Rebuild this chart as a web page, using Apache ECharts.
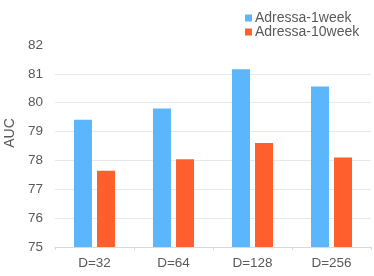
<!DOCTYPE html>
<html><head><meta charset="utf-8">
<script src="https://cdn.jsdelivr.net/npm/echarts@6/dist/echarts.min.js"></script>
<style>html,body{margin:0;padding:0;background:#fff}#c{width:374px;height:276px}</style>
</head><body><div id="c"></div>
<script>
const categories = ['D=32', 'D=64', 'D=128', 'D=256'];
const week1 = [79.41, 79.80, 81.16, 80.56];
const week10 = [77.64, 78.04, 78.60, 78.10];
const seriesNames = ['Adressa-1week', 'Adressa-10week'];
const chart = echarts.init(document.getElementById('c'), null, {renderer: 'canvas'});
const txt = '#595959';
chart.setOption({
  animation: false,
  grid: {left: 55, right: 3, top: 45, bottom: 29, outerBoundsMode: 'none', containLabel: false},
  legend: {
    orient: 'vertical', left: 240, top: 6, itemWidth: 7, itemHeight: 7, itemGap: 0,
    icon: 'rect',
    textStyle: {fontFamily: 'Liberation Sans', fontSize: 14, lineHeight: 13, color: txt, padding: [0,0,0,-2]},
    data: seriesNames
  },
  xAxis: {
    type: 'category', data: categories,
    axisLine: {lineStyle: {color: '#d9d9d9'}},
    axisTick: {show: true, length: 3, lineStyle: {color: '#d9d9d9'}},
    axisLabel: {fontFamily: 'Liberation Sans', fontSize: 13.5, color: txt, margin: 9}
  },
  yAxis: {
    type: 'value', min: 75, max: 82, interval: 1,
    name: 'AUC', nameLocation: 'middle', nameGap: 38,
    nameTextStyle: {fontFamily: 'Liberation Sans', fontSize: 14, color: txt, padding: [0, 0, 0, 26]},
    axisLine: {show: false}, axisTick: {show: false},
    axisLabel: {fontFamily: 'Liberation Sans', fontSize: 13.5, color: txt, margin: 12},
    splitLine: {showMaxLine: false, lineStyle: {color: '#e8e8e8'}}
  },
  series: [
    {name: seriesNames[0], type: 'bar', data: week1, barWidth: 18, barGap: '28%', itemStyle: {color: '#5cb6fc'}},
    {name: seriesNames[1], type: 'bar', data: week10, barWidth: 18, itemStyle: {color: '#ff5f2d'}}
  ]
});
</script></body></html>
